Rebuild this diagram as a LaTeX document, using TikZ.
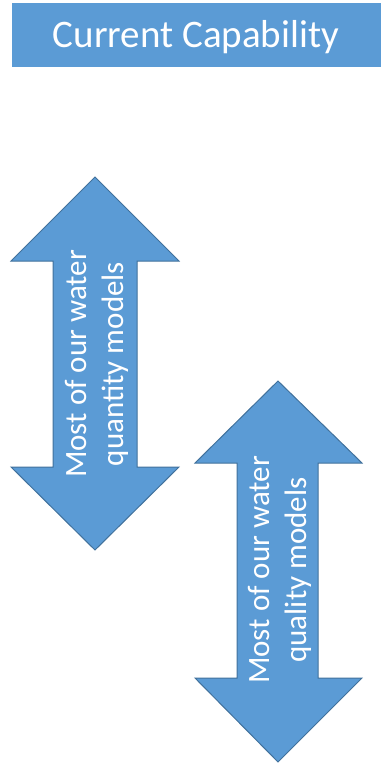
\documentclass[tikz,border=0pt]{standalone}
\usepackage{fontspec}
\setmainfont{Carlito}
\usepackage{xcolor}
\usepackage{tikz}
\usetikzlibrary{positioning}
\definecolor{capblue}{RGB}{91, 155, 213}
\definecolor{capedge}{RGB}{65, 113, 156}

\tikzset{
    arrowbody/.style={fill=capblue, draw=capedge, line width=1pt, line join=miter},
    arrowtext/.style={white, rotate=90, align=center, font=\fontsize{31}{37}\selectfont},
}

\begin{document}
\begin{tikzpicture}[x=1pt, y=-1pt]
    \useasboundingbox (0,0) rectangle (381,764);

    % Title bar
    \fill[capblue] (12,3) rectangle (381,67);
    \node[white, anchor=base, font=\fontsize{39}{47}\selectfont] (title) at (196,47) {Current Capability};

    % Quantity arrow
    \draw[arrowbody] (95,177) -- (179,261) -- (137,261) -- (137,467) -- (179,467)
        -- (95,550) -- (11,467) -- (53,467) -- (53,261) -- (11,261) -- cycle;
    \node[arrowtext] (quantity) at (97,364) {Most of our water\\quantity models};

    % Quality arrow
    \draw[arrowbody] (278,381) -- (362,463) -- (318,463) -- (318,678) -- (362,678)
        -- (278,762) -- (195,678) -- (237,678) -- (237,463) -- (195,463) -- cycle;
    \node[arrowtext] (quality) at (280,570) {Most of our water\\quality models};
\end{tikzpicture}
\end{document}
